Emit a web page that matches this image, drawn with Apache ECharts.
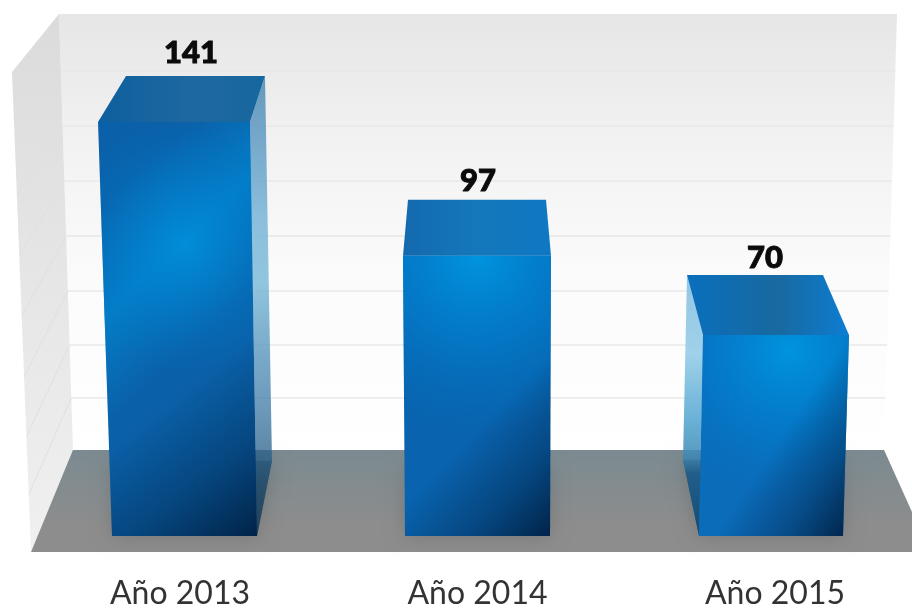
<!DOCTYPE html>
<html>
<head>
<meta charset="utf-8">
<style>html,body{margin:0;padding:0;background:#fff}#c{width:912px;height:608px}</style>
<script src="https://cdn.jsdelivr.net/npm/echarts@6/dist/echarts.min.js"></script>
</head>
<body>
<div id="c"></div>
<script>
const categories = ['Año 2013', 'Año 2014', 'Año 2015'];
const cases = [141, 97, 70];

// Perspective of each box, in px relative to the category centre and the value's y.
const boxShapes = [
  { frontTop:[-82,70], frontBot:[-68,77], backTop:[-54,85], depth:46, nudge:-5, labelDx:-4.5, labelUp:23,
    side:{ topX:85, frontTopX:70, botX:92, frontBotX:77, rise:75 },
    sideStops:[[0,'rgba(50,120,170,.72)'],[.3,'rgba(120,180,215,.85)'],[.45,'rgba(130,190,218,.88)'],[.72,'rgba(60,120,165,.75)'],[.86,'rgba(30,85,125,.75)'],[1,'rgba(20,55,85,.8)']],
    topStops:[[0,'#0d5f9f'],[.55,'#1f689f'],[1,'#17679f']],
    base:'#0a61a9', glow:[.55,.3,.8], glowA:.7, band:[0,.1,1,.5] },
  { frontTop:[-74.5,73.5], frontBot:[-72.5,72.5], backTop:[-69.5,68.5], depth:56, nudge:1, labelDx:1, labelUp:19,
    topStops:[[0,'#1469ad'],[.5,'#1478ba'],[1,'#0f78c4']],
    base:'#0963ae', glow:[.5,.0,1.2], glowA:1 },
  { frontTop:[-72,74], frontBot:[-76,68], backTop:[-88,48], depth:60, nudge:2, labelDx:10, labelUp:17,
    side:{ topX:-88, frontTopX:-72, botX:-92, frontBotX:-76, rise:76 },
    sideStops:[[0,'rgba(120,185,220,.8)'],[.3,'rgba(150,205,232,.9)'],[.55,'rgba(90,170,210,.9)'],[.7,'rgba(60,135,180,.85)'],[.76,'rgba(25,95,145,.85)'],[1,'rgba(10,75,125,.9)']],
    topStops:[[0,'#0a6fbd'],[.55,'#18699f'],[1,'#0d7dd2']],
    base:'#0b6cba', glow:[.6,.08,1.0], glowA:1 }
];

const poly = (points, fill, extra) => ({
  type:'polygon', shape:{points}, style:Object.assign({fill}, extra || {})
});

function renderBox(params, api) {
  const i = api.value(0), v = api.value(1);
  const s = boxShapes[i];
  const [cx, baseY] = api.coord([i, 0]);
  const topY = api.coord([i, v])[1] + s.nudge;
  const backY = topY - s.depth;
  const ft = s.frontTop, fb = s.frontBot, bt = s.backTop;
  const children = [];
  // shadow on the floor
  const sd = s.side;
  const rise = sd ? sd.rise : 70;
  children.push(poly([[cx+fb[0],baseY],[cx+fb[1],baseY],
    [cx+(sd && sd.botX>0?sd.botX:fb[1]-2),baseY-rise],[cx+(sd && sd.botX<0?sd.botX:fb[0]+2),baseY-rise]],
    'rgba(0,0,0,.30)', {shadowBlur:20, shadowColor:'rgba(0,0,0,.55)'}));
  // side face
  if (sd) {
    children.push(poly([[cx+sd.frontTopX,topY],[cx+sd.topX,backY],[cx+sd.botX,baseY-rise],[cx+sd.frontBotX,baseY]],
      {type:'linear',x:0,y:0,x2:0,y2:1,colorStops:s.sideStops.map(a=>({offset:a[0],color:a[1]}))}));
  }
  // top face
  children.push(poly([[cx+ft[0],topY],[cx+bt[0],backY],[cx+bt[1],backY],[cx+ft[1],topY]],
    {type:'linear',x:0,y:0,x2:1,y2:0,colorStops:s.topStops.map(a=>({offset:a[0],color:a[1]}))}));
  // front face: base, glow, dark corner
  const front = [[cx+ft[0],topY],[cx+ft[1],topY],[cx+fb[1],baseY],[cx+fb[0],baseY]];
  children.push(poly(front, s.base));
  if (s.band) {
    children.push(poly(front, {type:'linear',x:s.band[0],y:s.band[1],x2:s.band[2],y2:s.band[3],colorStops:[
      {offset:.15,color:'rgba(0,140,215,0)'},{offset:.5,color:'rgba(0,145,220,.6)'},{offset:.85,color:'rgba(0,140,215,0)'}]}));
  }
  children.push(poly(front, {type:'radial',x:s.glow[0],y:s.glow[1],r:s.glow[2],colorStops:[
    {offset:0,color:'rgba(0,148,222,'+s.glowA+')'},{offset:.5,color:'rgba(0,130,210,'+(s.glowA*.6)+')'},{offset:1,color:'rgba(0,115,195,0)'}]}));
  children.push(poly(front, {type:'linear',x:0,y:.5,x2:1,y2:1,colorStops:[
    {offset:.38,color:'rgba(1,35,72,0)'},{offset:.7,color:'rgba(1,38,76,.45)'},{offset:1,color:'rgba(1,35,72,1)'}]}));
  // value label
  children.push({type:'text', x:cx+(bt[0]+bt[1])/2+s.labelDx, y:backY-s.labelUp,
    style:{text:String(v), fontFamily:'Lato', fontWeight:900, fontSize:31, fill:'#0b0b0b', stroke:'#0b0b0b', lineWidth:1, align:'center', verticalAlign:'middle'}});
  return {type:'group', children};
}

// Room behind the boxes
const wallTop = 14, wallBot = 450, backL = 59, backLb = 73, backR = 897, backRb = 884;
const gridYs = [71, 126, 181, 236, 291, 345, 398];
const room = [];
room.push({type:'polygon', z:0, shape:{points:[[backL,wallTop],[backR,wallTop],[backRb,wallBot],[backLb,wallBot]]},
  style:{fill:{type:'linear',x:0,y:0,x2:0,y2:1,colorStops:[{offset:0,color:'#e6e6e6'},{offset:.3,color:'#f2f2f2'},{offset:.6,color:'#fbfbfb'},{offset:1,color:'#ffffff'}]}}});
room.push({type:'polygon', z:0, shape:{points:[[backL,wallTop],[12,72],[31,552],[backLb,wallBot]]},
  style:{fill:{type:'linear',x:0,y:0,x2:0,y2:1,colorStops:[{offset:0,color:'#dbdbdb'},{offset:.5,color:'#e6e6e6'},{offset:1,color:'#f0f0f0'}]}}});
gridYs.forEach(y => {
  const t = (y-wallTop)/(wallBot-wallTop);
  const xl = backL + t*(backLb-backL), xr = backR - t*(backR-backRb);
  room.push({type:'line', z:1, shape:{x1:xl,y1:y,x2:xr,y2:y}, style:{stroke:'#e9e9e9',lineWidth:1.5}});
  room.push({type:'line', z:1, shape:{x1:xl,y1:y,x2:12+t*19,y2:72+t*480}, style:{stroke:'#e0e0e0',lineWidth:1}});
});
const floorPts = [[backLb,wallBot],[884,wallBot],[912,512],[912,552],[31,552]];
room.push({type:'polygon', z:1, shape:{points:floorPts}, style:{fill:'#8d8d8d'}});
room.push({type:'polygon', z:1, shape:{points:floorPts},
  style:{fill:{type:'linear',x:0,y:0,x2:0,y2:1,colorStops:[{offset:0,color:'rgba(95,135,150,.4)'},{offset:.75,color:'rgba(95,135,150,0)'}]}}});

const chart = echarts.init(document.getElementById('c'), null, {renderer:'canvas'});
chart.setOption({
  animation:false,
  backgroundColor:'#fff',
  graphic:{elements:room},
  grid:{left:180, width:595, top:14, height:522, containLabel:false, outerBoundsMode:'none'},
  xAxis:{type:'category', boundaryGap:false, data:categories, axisLine:{show:false}, axisTick:{show:false}, splitLine:{show:false},
    axisLabel:{margin:42, fontFamily:'Lato', fontSize:32, color:'#333', interval:0}},
  yAxis:{type:'value', min:0, max:180, show:false},
  series:[{type:'custom', renderItem:renderBox, clip:false, z:5, encode:{x:0,y:1},
    data:cases.map((v,i)=>[i,v])}]
});
</script>
</body>
</html>
